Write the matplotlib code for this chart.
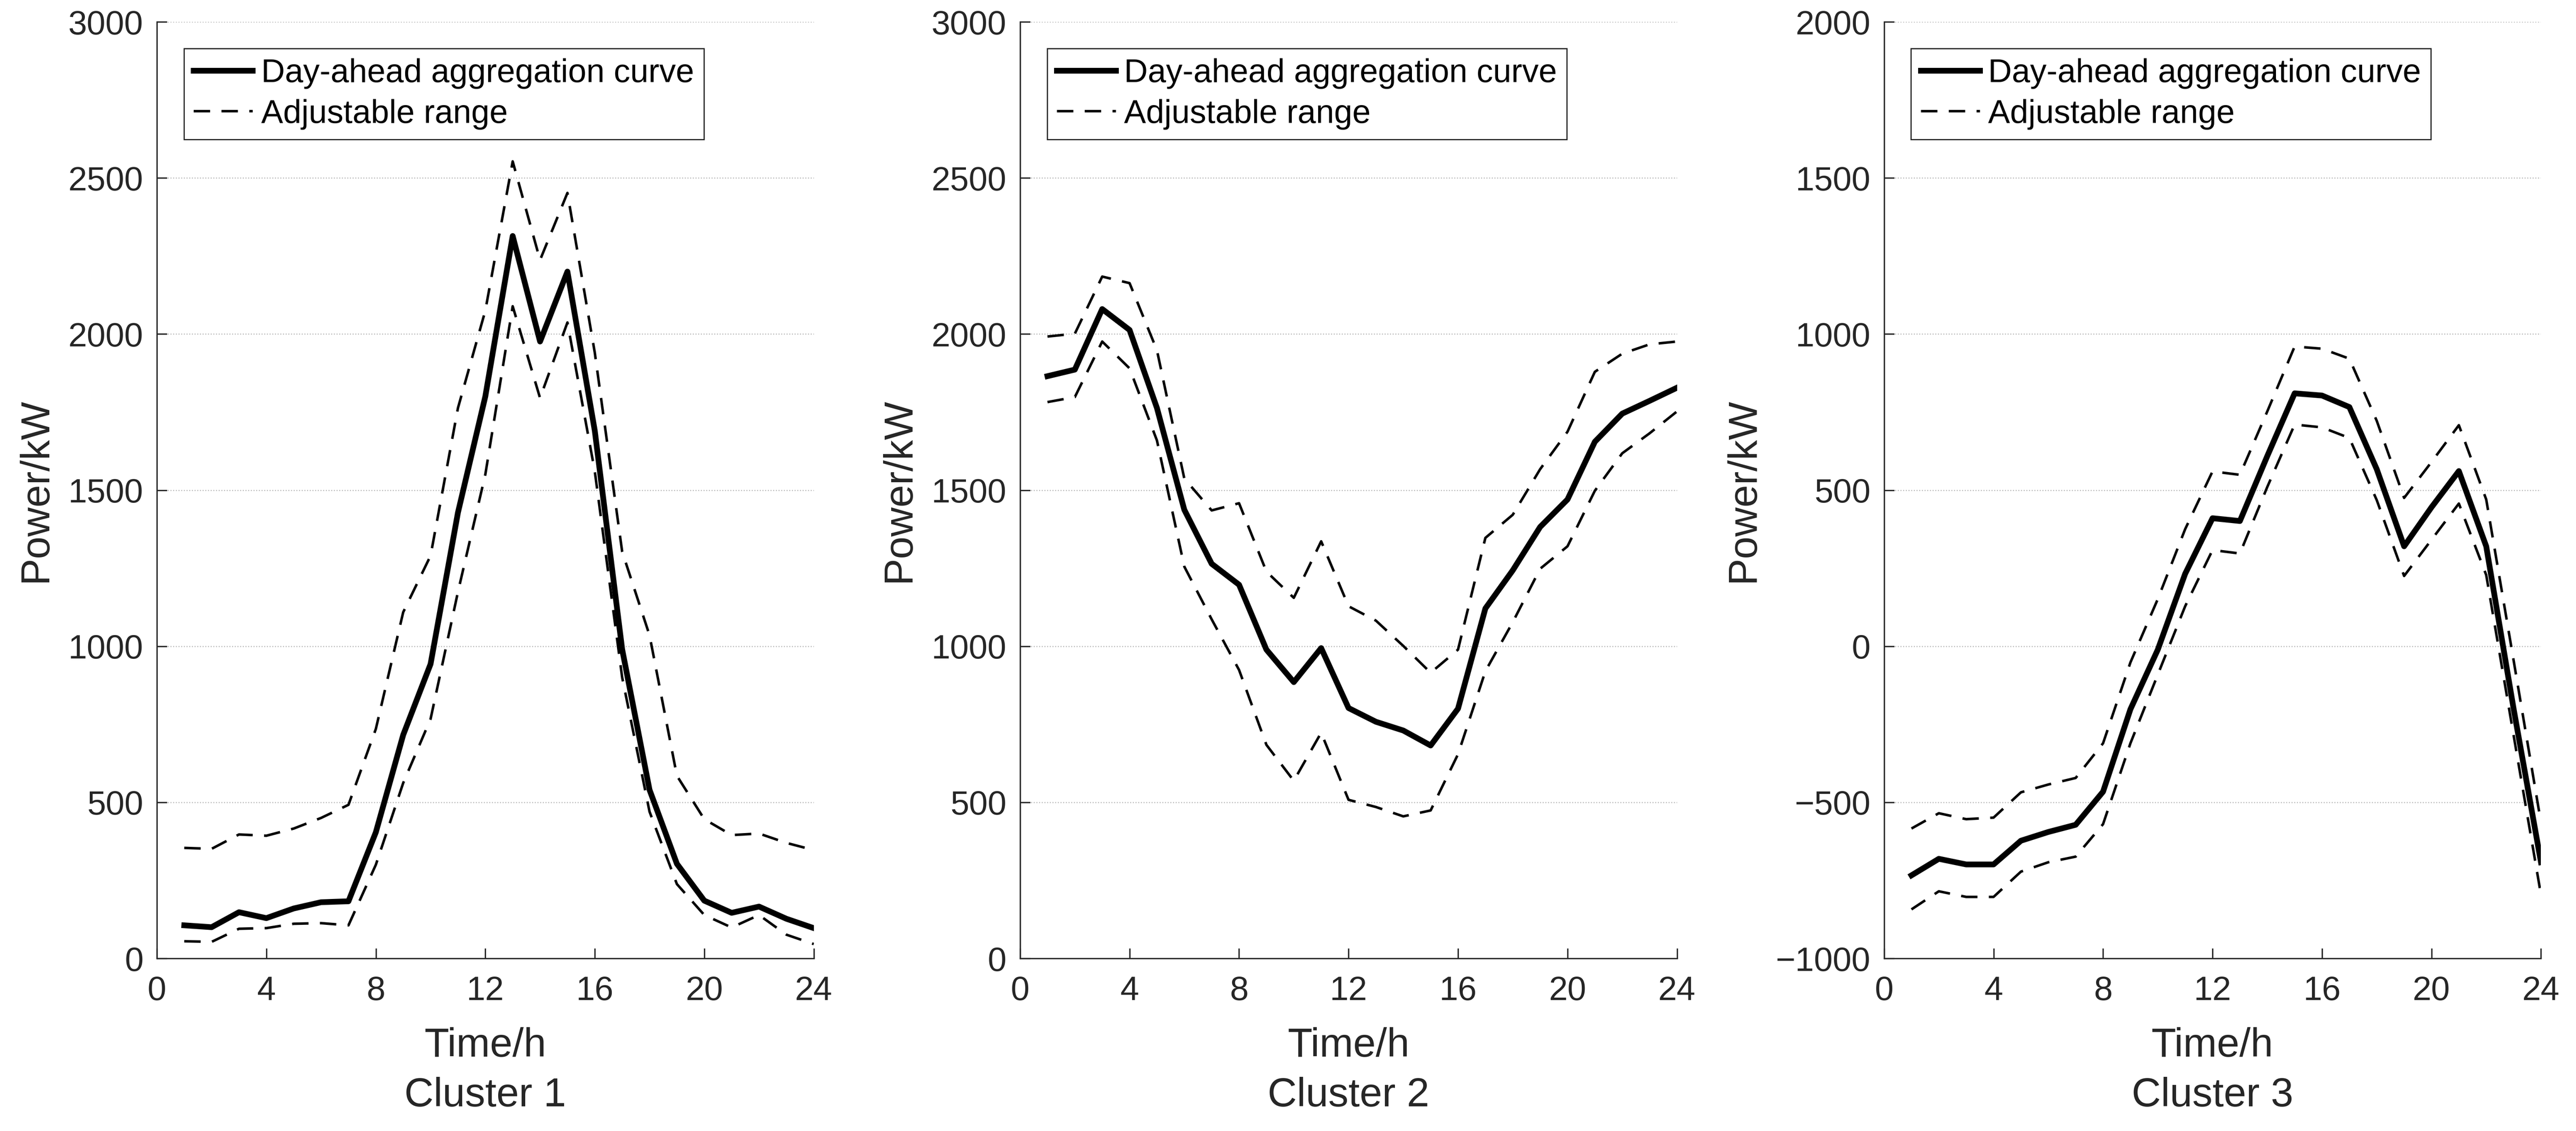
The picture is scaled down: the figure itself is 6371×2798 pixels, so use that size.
import numpy as np
import matplotlib
matplotlib.use('Agg')
import matplotlib.pyplot as plt

plt.rcParams['font.family'] = ['Liberation Sans', 'DejaVu Sans']

hours = np.arange(1, 25)

# Cluster 1
c1_main = [106, 100, 148, 129, 160, 180, 183, 404, 716, 943, 1428, 1800,
           2314, 1976, 2200, 1690, 990, 540, 303, 185, 146, 166, 127, 97]
c1_up = [354, 351, 397, 393, 416, 450, 492, 735, 1109, 1290, 1763, 2075,
         2553, 2237, 2452, 1940, 1303, 1035, 585, 446, 395, 400, 370, 347]
c1_low = [55, 53, 95, 97, 111, 113, 106, 300, 562, 767, 1174, 1550,
          2089, 1795, 2037, 1560, 900, 470, 238, 139, 99, 139, 76, 46]

# Cluster 2
c2_main = [1865, 1886, 2080, 2013, 1763, 1437, 1264, 1197, 989, 885, 994, 802,
           758, 730, 682, 800, 1121, 1243, 1382, 1470, 1655, 1745, 1786, 1828]
c2_up = [1992, 2001, 2184, 2163, 1948, 1537, 1435, 1458, 1239, 1155, 1336, 1128,
         1082, 1001, 915, 989, 1347, 1421, 1567, 1687, 1879, 1937, 1967, 1976]
c2_low = [1782, 1798, 1976, 1890, 1659, 1255, 1086, 924, 684, 569, 723, 508,
          485, 455, 474, 654, 920, 1077, 1248, 1320, 1498, 1618, 1682, 1752]

# Cluster 3
c3_main = [-734, -681, -699, -699, -623, -595, -572, -466, -202, -11, 232, 410,
           401, 609, 810, 803, 766, 567, 320, 445, 561, 320, -200, -692]
c3_up = [-584, -535, -554, -549, -468, -443, -422, -311, -52, 151, 375, 560,
         549, 752, 960, 953, 921, 722, 475, 590, 708, 470, -45, -565]
c3_low = [-843, -785, -803, -803, -722, -692, -674, -570, -311, -91, 128, 308,
          297, 510, 710, 701, 667, 468, 225, 341, 457, 228, -285, -796]

mains = [c1_main, c2_main, c3_main]
ups = [c1_up, c2_up, c3_up]
lows = [c1_low, c2_low, c3_low]
names = ['Cluster 1', 'Cluster 2', 'Cluster 3']
ylims = [(0, 3000), (0, 3000), (-1000, 2000)]

gray = (0.15, 0.15, 0.15)
fig = plt.figure(figsize=(6371/300, 2798/300), dpi=300)
lefts = [0.0609, 0.3960, 0.7314]
width = 0.2550

for i in range(3):
    ax = fig.add_axes([lefts[i], 0.1526, width, 0.8281])
    l1, = ax.plot(hours, mains[i], color='black', lw=3.4)
    l2, = ax.plot(hours, ups[i], color='black', lw=1.5, ls='--', dashes=(6.5, 4.5))
    ax.plot(hours, lows[i], color='black', lw=1.5, ls='--', dashes=(6.5, 4.5))
    ax.set_xlim(0, 24)
    ax.set_ylim(*ylims[i])
    ax.set_xticks(range(0, 25, 4))
    ax.set_yticks(np.arange(ylims[i][0], ylims[i][1] + 1, 500))
    ax.yaxis.grid(True, ls=':', color=gray, alpha=0.35, lw=0.6)
    ax.set_axisbelow(True)
    for s in ['top', 'right']:
        ax.spines[s].set_visible(False)
    for s in ['left', 'bottom']:
        ax.spines[s].set_color(gray)
        ax.spines[s].set_linewidth(0.8)
    ax.tick_params(direction='in', length=6, width=0.8, colors=gray,
                   labelsize=20, labelcolor=gray)
    ax.tick_params(axis='x', pad=10)
    ax.tick_params(axis='y', pad=8)
    ax.set_xlabel('Time/h\n' + names[i], fontsize=24, color=gray,
                  linespacing=1.4, labelpad=12)
    ax.set_ylabel('Power/kW', fontsize=24, color=gray, labelpad=8)
    leg = ax.legend([l1, l2], ['Day-ahead aggregation curve', 'Adjustable range'],
                    loc='upper left', bbox_to_anchor=(0.041, 0.9715),
                    borderaxespad=0, fontsize=19.5, fancybox=False,
                    framealpha=1, edgecolor=gray, handlelength=1.8,
                    handletextpad=0.25, borderpad=0.3, labelspacing=0.3)
    leg.get_frame().set_linewidth(0.7)

fig.savefig('out.png', dpi=300)
